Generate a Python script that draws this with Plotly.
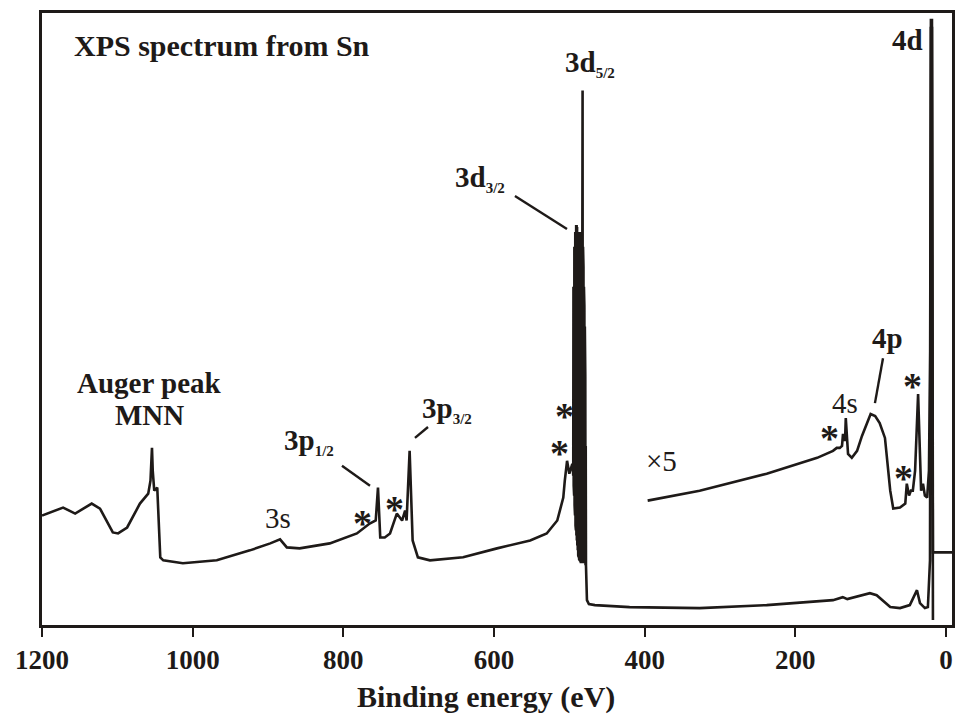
import plotly.graph_objects as go

# ---------------- data (binding energy in eV, intensity in arb. units) ----------------
main_energy = [1200, 1172, 1156, 1134, 1123, 1106, 1099, 1087, 1070, 1059, 1056, 1054, 1053, 1051,
               1047, 1043, 1039, 1013, 968, 924, 897, 884, 875, 858, 818, 782, 765, 757, 754, 751,
               745, 738, 729, 722, 718, 716, 712, 708, 701, 685, 641, 596, 552, 530, 516, 508, 506,
               503, 500, 496,
               # dense 3d doublet region
               495.4, 495.1, 494.8, 494.5, 494.2, 493.9, 493.6, 493.3, 493.0, 492.7, 492.4, 492.1,
               491.8, 491.5, 491.2, 490.9, 490.6, 490.3, 490.0, 489.7, 489.4, 489.1, 488.8,
               488.5, 488.2, 487.9, 487.6, 487.3, 487.0, 486.7, 486.4, 486.1, 485.8, 485.5, 485.2,
               484.9, 484.6, 484.3, 484.0, 483.7, 483.4, 483.1, 482.8, 482.4, 482.1, 481.8, 481.5,
               481.2, 480.9, 480.6, 480.3, 480.0, 479.7, 479.4, 479.1, 478.8, 478.5, 478.2, 477.9,
               476.6,
               474, 466, 420, 327, 238, 150, 137, 131, 101, 92, 74, 61, 48, 38.5, 34.5, 28, 24,
               21.2, 20, 18.6, 17.3]
main_intensity = [110, 118, 112, 122, 117, 93, 92, 98, 122, 132, 145, 178, 155, 135,
                  138, 68, 65, 62, 65, 75, 82, 86, 78, 77, 82, 92, 102, 105, 138, 88,
                  88, 92, 112, 105, 115, 105, 175, 85, 68, 65, 68, 77, 85, 92, 105, 128, 145,
                  165, 152, 162,
                  160, 300, 150, 340, 140, 360, 130, 380, 120, 390, 110, 395,
                  100, 400, 95, 402, 90, 402, 85, 400, 80, 395, 75,
                  380, 70, 370, 68, 385, 66, 390, 65, 395, 64, 390, 63,
                  385, 62, 390, 62, 395, 62, 390, 62, 537, 62, 380, 62,
                  360, 62, 340, 62, 320, 62, 300, 62, 250, 60, 180, 60,
                  25,
                  21, 20, 18, 17, 20, 25, 28, 26, 32, 30, 18, 17, 20, 35, 22, 17, 18,
                  65, 608, 608, 5]

x5_energy = [396, 327, 238, 171, 150, 145, 141, 138, 136.7, 134, 133, 130, 125, 118, 111.5, 105,
             100, 94, 88, 81, 77, 74, 70, 61, 54, 52, 49, 46.5, 44, 41, 37, 34.5, 33, 30.5, 28,
             25, 22.6, 21, 20, 18.6, 17.3, 14.6, -8]
x5_intensity = [125, 135, 152, 168, 175, 178, 178, 180, 192, 185, 208, 172, 168, 175, 190, 202,
                212, 210, 203, 188, 155, 135, 117, 118, 122, 142, 130, 135, 135, 155, 232, 155,
                135, 142, 130, 128, 155, 275, 600, 600, 73, 73, 73]

x_tick_vals = [1200, 1000, 800, 600, 400, 200, 0]
x_tick_text = ["1200", "1000", "800", "600", "400", "200", "0"]

# peak labels: (text, energy, intensity, xanchor, bold)
peak_labels = [
    ("Auger peak", 1057, 243, "center", True),
    ("MNN", 1057, 211, "center", True),
    ("3s", 887, 108, "center", False),
    ("3p<sub><span style='font-size:15px'>1/2</span></sub>", 881.5, 184, "left", True),
    ("3p<sub><span style='font-size:15px'>3/2</span></sub>", 698, 217, "left", True),
    ("3d<sub><span style='font-size:15px'>3/2</span></sub>", 654.5, 449, "left", True),
    ("3d<sub><span style='font-size:15px'>5/2</span></sub>", 508.4, 564, "left", True),
    ("\u00d75", 378, 165, "center", False),
    ("4s", 134, 223, "center", False),
    ("4p", 77, 288, "center", True),
    ("4d", 28, 588, "right", True),
]
star_energy = [45, 154, 57, 774, 731.5, 506, 512.4]
star_intensity = [250, 198, 158, 113, 127, 220, 183]

# leader lines: (E0, I0, E1, I1)
leaders = [
    (572.2, 431, 503.1, 398),
    (801.8, 160, 764.6, 140),
    (704.9, 188, 687.6, 199),
    (83.6, 268, 94.3, 223),
]

INK = "#1e1a18"
FONT = "Liberation Serif, Times New Roman, serif"

fig = go.Figure()
fig.add_trace(go.Scatter(x=main_energy, y=main_intensity, mode="lines",
                         line=dict(color=INK, width=2.6), showlegend=False, hoverinfo="skip"))
fig.add_trace(go.Scatter(x=x5_energy, y=x5_intensity, mode="lines",
                         line=dict(color=INK, width=2.6), showlegend=False, hoverinfo="skip"))

for text, e, i, anchor, bold in peak_labels:
    t = f"<b>{text}</b>" if bold else text
    fig.add_annotation(x=e, y=i, xref="x", yref="y", text=t, showarrow=False,
                       xanchor=anchor, yanchor="middle",
                       font=dict(family=FONT, size=29, color=INK))

for e, i in zip(star_energy, star_intensity):
    fig.add_annotation(x=e, y=i, xref="x", yref="y", text="<b>*</b>", showarrow=False,
                       xanchor="center", yanchor="middle", yshift=-10,
                       font=dict(family=FONT, size=38, color=INK))

for e0, i0, e1, i1 in leaders:
    fig.add_shape(type="line", x0=e0, y0=i0, x1=e1, y1=i1, xref="x", yref="y",
                  line=dict(color=INK, width=2.4))

fig.add_annotation(x=1160, y=582, xref="x", yref="y", text="<b>XPS spectrum from Sn</b>",
                   showarrow=False, xanchor="left", yanchor="middle",
                   font=dict(family=FONT, size=30, color=INK))

fig.add_annotation(x=0.488, y=-0.117, xref="paper", yref="paper",
                   text="<b>Binding energy (eV)</b>", showarrow=False,
                   xanchor="center", yanchor="middle",
                   font=dict(family=FONT, size=30, color=INK))

fig.update_xaxes(range=[1200, -8], tickvals=x_tick_vals,
                 ticktext=[f"<b>{t}</b>" for t in x_tick_text],
                 ticks="outside", ticklen=9, tickwidth=2, tickcolor=INK,
                 showline=True, linewidth=2.6, linecolor=INK, mirror=True,
                 showgrid=False, zeroline=False,
                 tickfont=dict(family=FONT, size=27, color=INK))
fig.update_yaxes(range=[0, 615], showline=True, linewidth=2.6, linecolor=INK, mirror=True,
                 showgrid=False, zeroline=False, showticklabels=False, ticks="")

fig.update_layout(width=965, height=724, margin=dict(l=42, r=13, t=10, b=99),
                  plot_bgcolor="white", paper_bgcolor="white",
                  font=dict(family=FONT, color=INK))

fig.write_html("out.html")
